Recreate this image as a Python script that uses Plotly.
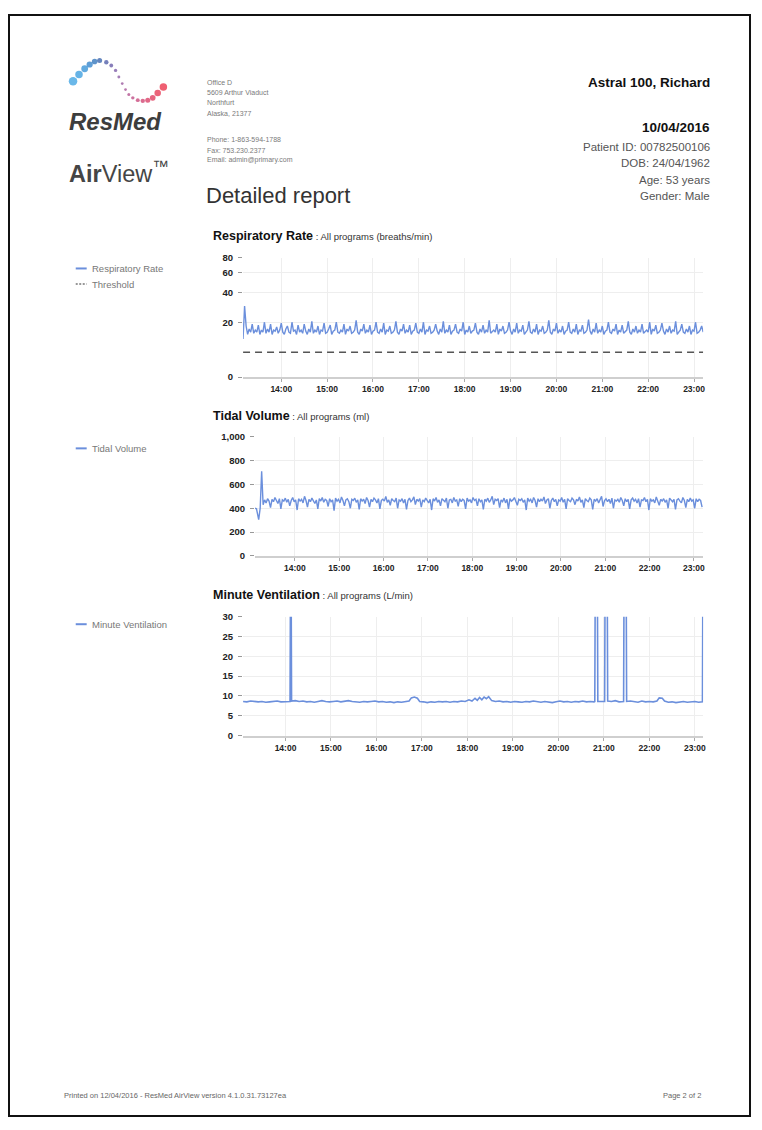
import numpy as np
import pandas as pd
import plotly.graph_objects as go

# Page is 762x1130; the browser body adds an 8px margin, so the figure is 746x1114
PAGE_W, PAGE_H, OFF = 762, 1130, 8
W, H = PAGE_W - 2 * OFF, PAGE_H - 2 * OFF
DAY = "2016-04-10 "


def px(x):
    return (x - OFF) / W


def py(y):
    return 1 - (y - OFF) / H


# ---------------- data ----------------
hour_ticks = ["14:00", "15:00", "16:00", "17:00", "18:00", "19:00", "20:00", "21:00", "22:00", "23:00"]

# Respiratory rate (breaths/min), every 2 minutes from 13:10
rr_start = "13:10"
rr_values = [
    12, 30, 18, 14, 16.5, 15, 19, 14.5, 16, 15,
    18.5, 14, 16, 15, 20, 14.5, 16.5, 15, 19, 14,
    16, 15.5, 17.5, 14.5, 16, 19.5, 15, 14, 16.5, 18,
    15, 14.5, 20, 15.5, 16, 14, 18.5, 15, 16, 14.5,
    19, 15.5, 14, 16.5, 15, 20.5, 14.5, 16, 15, 18,
    14, 16, 15.5, 19.5, 14.5, 15, 16.5, 18.5, 14, 15.5,
    16, 20, 15, 14.5, 16, 15, 19, 14, 16.5, 15.5,
    18, 14.5, 15, 16, 21, 15, 14, 16.5, 15.5, 19,
    14.5, 16, 15, 18.5, 14, 15.5, 16, 20, 15, 14.5,
    16.5, 15, 19.5, 14, 16, 15.5, 18, 14.5, 15, 16,
    20.5, 15, 14, 16.5, 15.5, 19, 14.5, 16, 15, 18.5,
    14, 15.5, 16, 19.5, 15, 14.5, 16.5, 15, 20, 14,
    16, 15.5, 18, 14.5, 15, 16, 19, 15.5, 14, 16.5,
    15, 20.5, 14.5, 16, 15, 18.5, 14, 15.5, 16, 19,
    15, 14.5, 16.5, 15.5, 20, 14, 16, 15, 18, 14.5,
    15.5, 16, 19.5, 15, 14, 16.5, 15, 18.5, 14.5, 16,
    15, 21, 14.5, 15.5, 16, 15, 19, 14, 16.5, 15.5,
    18, 14.5, 15, 16, 20, 15.5, 14, 16.5, 15, 19.5,
    14.5, 16, 15.5, 18.5, 14, 15, 16, 20.5, 15, 14.5,
    16.5, 15, 19, 14, 16, 15.5, 18, 14.5, 15, 16,
    21, 15, 14, 16.5, 15.5, 19.5, 14.5, 16, 15, 18,
    14, 15.5, 16, 20, 15, 14.5, 16.5, 15, 19, 14,
    16, 15.5, 18.5, 14.5, 15, 16, 21.5, 15.5, 14, 16.5,
    15, 19.5, 14.5, 16, 15, 18, 14, 15.5, 16, 20,
    15, 14.5, 16.5, 15.5, 19, 14, 16, 15, 18.5, 14.5,
    15.5, 16, 20.5, 15, 14, 16.5, 15, 18, 14.5, 16,
    15, 19, 14.5, 15.5, 16, 15, 20, 14, 16.5, 15.5,
    18.5, 14.5, 15, 16, 19.5, 15.5, 14, 16.5, 15, 18,
    14.5, 16, 15.5, 20.5, 14, 15, 16, 19, 15, 14.5,
    16.5, 15, 18, 14, 16, 15.5, 20, 14.5, 15, 16,
    18, 15,
]
rr_threshold = 7
rr_ticks = [0, 20, 40, 60, 80]
RR_OFFSET = 15  # offset of the compressed (log) respiratory-rate scale

# Tidal volume (ml)
tv_head_times = ["13:06", "13:08", "13:11", "13:13", "13:15", "13:17"]
tv_head_values = [400, 395, 305, 400, 710, 430]
tv_start = "13:19"  # then every 2 minutes
tv_values = [
    470, 445, 480, 460, 405, 475, 455, 490, 465, 440,
    480, 395, 470, 460, 485, 450, 475, 420, 465, 490,
    455, 470, 385, 480, 460, 475, 445, 500, 465, 410,
    475, 455, 485, 465, 440, 470, 395, 480, 460, 490,
    450, 475, 465, 415, 480, 455, 470, 380, 485, 460,
    475, 445, 495, 465, 420, 470, 480, 455, 400, 475,
    465, 485, 450, 470, 390, 480, 460, 475, 440, 490,
    465, 410, 475, 455, 485, 470, 445, 480, 395, 465,
    475, 460, 500, 450, 470, 425, 480, 465, 455, 485,
    400, 470, 460, 480, 445, 475, 390, 465, 485, 455,
    470, 495, 430, 475, 460, 480, 410, 470, 455, 485,
    465, 445, 475, 385, 480, 460, 490, 450, 470, 420,
    480, 465, 455, 485, 400, 470, 475, 445, 490, 460,
    470, 415, 480, 455, 475, 465, 395, 485, 460, 470,
    445, 490, 465, 475, 420, 480, 455, 470, 390, 475,
    460, 485, 450, 470, 500, 430, 475, 465, 480, 405,
    470, 455, 485, 445, 475, 395, 480, 460, 470, 490,
    455, 425, 475, 465, 480, 450, 470, 385, 485, 460,
    475, 445, 490, 465, 410, 480, 455, 475, 460, 495,
    440, 470, 480, 400, 465, 485, 455, 475, 420, 470,
    460, 490, 450, 475, 395, 480, 465, 455, 485, 470,
    430, 475, 460, 495, 450, 470, 405, 480, 465, 455,
    485, 470, 390, 475, 460, 480, 445, 470, 500, 415,
    465, 480, 455, 475, 440, 485, 400, 470, 460, 475,
    450, 490, 465, 420, 480, 455, 475, 395, 470, 485,
    460, 475, 445, 480, 410, 470, 465, 490, 455, 475,
    385, 480, 460, 470, 445, 495, 465, 425, 475, 460,
    480, 450, 470, 400, 485, 465, 455, 475, 390, 470,
    480, 460, 445, 490, 465, 405, 475, 455, 485, 460,
    470, 400, 480, 455, 475, 465, 410,
]
tv_ticks = [0, 200, 400, 600, 800, 1000]

# Minute ventilation (L/min)
mv_times = [
    "13:04", "13:09", "13:14", "13:19", "13:24", "13:29", "13:34", "13:39", "13:44", "13:49",
    "13:54", "13:59", "14:04", "14:06", "14:07", "14:08", "14:13", "14:18", "14:23", "14:28",
    "14:33", "14:38", "14:43", "14:48", "14:53", "14:58", "15:03", "15:08", "15:13", "15:18",
    "15:23", "15:28", "15:33", "15:38", "15:43", "15:48", "15:53", "15:58", "16:03", "16:08",
    "16:13", "16:18", "16:23", "16:28", "16:33", "16:38", "16:43", "16:46", "16:50", "16:54",
    "16:57", "17:02", "17:07", "17:12", "17:17", "17:22", "17:27", "17:32", "17:37", "17:42",
    "17:47", "17:52", "17:57", "18:02", "18:06", "18:10", "18:13", "18:16", "18:19", "18:22",
    "18:25", "18:28", "18:32", "18:37", "18:42", "18:47", "18:52", "18:57", "19:02", "19:07",
    "19:12", "19:17", "19:22", "19:27", "19:32", "19:37", "19:42", "19:47", "19:52", "19:57",
    "20:02", "20:07", "20:12", "20:17", "20:22", "20:27", "20:32", "20:37", "20:42", "20:47",
    "20:48", "20:49", "20:51", "20:52", "20:57", "21:01", "21:02", "21:04", "21:05", "21:10",
    "21:15", "21:20", "21:26", "21:27", "21:29", "21:30", "21:35", "21:40", "21:45", "21:50",
    "21:55", "22:00", "22:05", "22:10", "22:13", "22:17", "22:20", "22:25", "22:30", "22:35",
    "22:40", "22:45", "22:50", "22:55", "23:00", "23:05", "23:10", "23:11",
]
mv_values = [
    8.6, 8.5, 8.7, 8.6, 8.5, 8.6, 8.4, 8.5, 8.6, 8.7,
    8.5, 8.6, 8.7, 8.6, 60, 8.7, 8.8, 8.6, 8.7, 8.5,
    8.6, 8.4, 8.6, 8.8, 8.6, 8.5, 8.6, 8.7, 8.5, 8.6,
    8.8, 8.6, 8.5, 8.4, 8.6, 8.5, 8.6, 8.7, 8.5, 8.6,
    8.4, 8.5, 8.3, 8.5, 8.4, 8.6, 8.7, 9.5, 9.7, 9.4,
    8.6, 8.5, 8.3, 8.5, 8.4, 8.6, 8.5, 8.6, 8.4, 8.6,
    8.5, 8.7, 8.6, 9.0, 8.7, 9.4, 8.9, 9.6, 9.0, 9.7,
    9.3, 9.8, 8.8, 8.6, 8.7, 8.5, 8.6, 8.4, 8.6, 8.5,
    8.4, 8.6, 8.5, 8.7, 8.5, 8.4, 8.6, 8.4, 8.3, 8.5,
    8.7, 8.5, 8.6, 8.4, 8.6, 8.5, 8.7, 8.5, 8.6, 8.5,
    8.6, 60, 60, 8.6, 8.7, 8.6, 60, 60, 8.7, 8.6,
    8.8, 8.5, 8.6, 60, 60, 8.6, 8.7, 8.5, 8.4, 8.7,
    8.5, 8.6, 8.5, 8.7, 9.5, 9.4, 8.7, 8.4, 8.5, 8.3,
    8.5, 8.6, 8.4, 8.5, 8.6, 8.4, 8.5, 60,
]
mv_ticks = [0, 5, 10, 15, 20, 25, 30]

# ---------------- styles ----------------
BLUE = "#6b8fdc"
FONT = "Liberation Sans, Arial, sans-serif"
TICKFONT = dict(family=FONT, size=8.5, color="#222", weight="bold")
YTICKFONT = dict(family=FONT, size=9.5, color="#222", weight="bold")
GRID = "#eeeeee"

rr_times = pd.date_range(DAY + rr_start, periods=len(rr_values), freq="2min")
tv_times = list(pd.to_datetime([DAY + t for t in tv_head_times])) + list(
    pd.date_range(DAY + tv_start, periods=len(tv_values), freq="2min"))
tv_all = tv_head_values + tv_values
mv_dt = pd.to_datetime([DAY + t for t in mv_times])

fig = go.Figure()
fig.add_trace(go.Scatter(x=rr_times, y=np.array(rr_values) + RR_OFFSET, mode="lines",
                         line=dict(color=BLUE, width=1.4), xaxis="x", yaxis="y",
                         name="Respiratory Rate", hoverinfo="skip"))
fig.add_trace(go.Scatter(x=[DAY + "13:10", DAY + "23:12"],
                         y=[rr_threshold + RR_OFFSET, rr_threshold + RR_OFFSET], mode="lines",
                         line=dict(color="#555", width=1.5, dash="7px,5px"), xaxis="x", yaxis="y",
                         name="Threshold", hoverinfo="skip"))
fig.add_trace(go.Scatter(x=tv_times, y=tv_all, mode="lines",
                         line=dict(color=BLUE, width=1.4), xaxis="x2", yaxis="y2",
                         name="Tidal Volume", hoverinfo="skip"))
fig.add_trace(go.Scatter(x=mv_dt, y=mv_values, mode="lines",
                         line=dict(color=BLUE, width=1.6), xaxis="x3", yaxis="y3",
                         name="Minute Ventilation", hoverinfo="skip"))

# Logo dots (decoration, page pixel space)
logo_x = [73.3, 79.3, 85, 90, 95, 100, 106.7, 111.7, 116, 119.3, 122.7, 126, 129.3, 133.3,
          138.3, 143.3, 148.3, 153.3, 158.3, 164]
logo_y = [76, 69, 63.3, 59, 56, 55, 56.7, 60, 65, 71.7, 78.3, 84.3, 89.3, 92.7, 95, 95.7,
          95, 92.7, 87.7, 81.7]
logo_s = [8.5, 7.5, 6.8, 6.2, 5.6, 5, 4.4, 3.8, 3.3, 2.9, 2.7, 2.7, 3, 3.4, 3.9, 4.4, 5, 5.7,
          6.5, 7.5]
logo_c = ["#2b9ae0", "#2593dc", "#1f86d2", "#1b75c5", "#1a65b4", "#2452a2", "#3a4a9e", "#55479d",
          "#6c479c", "#7d4799", "#8d4492", "#9b3f8a", "#a93a80", "#b63576", "#c2306b", "#cc2c60",
          "#d52854", "#dc2449", "#e22240", "#e81d36"]
fig.add_trace(go.Scatter(x=logo_x, y=logo_y, mode="markers",
                         marker=dict(size=logo_s, color=logo_c, line=dict(width=0)),
                         xaxis="x4", yaxis="y4", hoverinfo="skip"))


def xaxis_cfg(left, right, rng, anchor):
    return dict(domain=[px(left), px(right)], type="date", range=[DAY + rng[0], DAY + rng[1]],
                tickvals=[DAY + h for h in hour_ticks], ticktext=hour_ticks,
                showgrid=True, gridcolor=GRID, gridwidth=1, zeroline=False,
                showline=True, linecolor="#cfcfcf", linewidth=2,
                ticks="outside", ticklen=3, tickcolor="#aaa", tickwidth=1,
                tickfont=TICKFONT, anchor=anchor, fixedrange=True)


def yaxis_cfg(top, bottom, anchor, **kw):
    d = dict(domain=[py(bottom), py(top)], showgrid=True, gridcolor=GRID, gridwidth=1,
             zeroline=False, showline=False, ticks="outside", ticklen=4, tickcolor="#999",
             tickwidth=1, tickfont=YTICKFONT, anchor=anchor, fixedrange=True,
             ticklabelstandoff=3)
    d.update(kw)
    return d


layout = dict(
    width=W, height=H, margin=dict(l=0, r=0, t=0, b=0),
    paper_bgcolor="white", plot_bgcolor="rgba(0,0,0,0)", showlegend=False,
    xaxis=xaxis_cfg(244, 706, ("13:10", "23:12"), "y"),
    yaxis=yaxis_cfg(254, 374.7, "x", type="log",
                    range=[np.log10(RR_OFFSET), np.log10(rr_ticks[-1] + RR_OFFSET)],
                    tickvals=[v + RR_OFFSET for v in rr_ticks], ticktext=[str(v) for v in rr_ticks]),
    xaxis2=xaxis_cfg(256, 706, ("13:06", "23:12:30"), "y2"),
    yaxis2=yaxis_cfg(435, 555.3, "x2", range=[0, tv_ticks[-1]], tickvals=tv_ticks,
                     ticktext=[f"{v:,}" for v in tv_ticks]),
    xaxis3=xaxis_cfg(244, 706, ("13:04", "23:11"), "y3"),
    yaxis3=yaxis_cfg(616.7, 736.7, "x3", range=[0, mv_ticks[-1]], tickvals=mv_ticks,
                     ticktext=[str(v) for v in mv_ticks]),
    xaxis4=dict(domain=[0, 1], range=[OFF, PAGE_W - OFF], visible=False, fixedrange=True,
                anchor="y4"),
    yaxis4=dict(domain=[0, 1], range=[PAGE_H - OFF, OFF], visible=False, fixedrange=True,
                anchor="x4"),
)
fig.update_layout(**layout)

ann = []


def text(x, y, s, size, color="#333", anchor="left", bold=False, family=FONT, yanchor="middle"):
    ann.append(dict(x=px(x), y=py(y), xref="paper", yref="paper", text=s, showarrow=False,
                    xanchor=anchor, yanchor=yanchor, align=anchor,
                    font=dict(family=family, size=size, color=color,
                              weight="bold" if bold else "normal")))


# Logo text
text(67, 117, "<i>ResMed</i>", 24, "#3d3d3d", bold=True)
text(67, 168, "<b>Air</b>View<sup>™</sup>", 23.5, "#454545")

# Address block
addr = [("Office D", 76.7), ("5609 Arthur Viaduct", 87.3), ("Northfurt", 97.7),
        ("Alaska, 21377", 108.3), ("Phone: 1-863-594-1788", 135), ("Fax: 753.230.2377", 145.7),
        ("Email: admin@primary.com", 155.7)]
for s, y in addr:
    text(206, y, s, 7, "#7a7a7a")
text(205, 191.7, "Detailed report", 22, "#333")

# Patient block
text(715, 76.7, "Astral 100, Richard", 13.5, "#111", anchor="right", bold=True)
text(715, 122.7, "10/04/2016", 13.5, "#111", anchor="right", bold=True)
for s, y in [("Patient ID: 00782500106", 142.3), ("DOB: 24/04/1962", 158.8),
             ("Age: 53 years", 175.2), ("Gender: Male", 191.5)]:
    text(715, y, s, 11.5, "#555", anchor="right")

# Chart titles
for title, sub, y in [("Respiratory Rate", "All programs (breaths/min)", 232.7),
                      ("Tidal Volume", "All programs (ml)", 414),
                      ("Minute Ventilation", "All programs (L/min)", 595)]:
    text(211.5, y, f"<b>{title}</b><span style='font-size:9.5px;color:#333'> : {sub}</span>",
         12.5, "#111")

# Left legends
shapes = []
for label, y, dash, col in [("Respiratory Rate", 265, None, BLUE), ("Threshold", 280.7, "dot", "#777"),
                            ("Tidal Volume", 446.7, None, BLUE),
                            ("Minute Ventilation", 624.3, None, BLUE)]:
    ln = dict(color=col, width=2 if dash is None else 1.5)
    if dash:
        ln["dash"] = "2px,1.5px"
    shapes.append(dict(type="line", xref="paper", yref="paper", x0=px(76), x1=px(87),
                       y0=py(y), y1=py(y), line=ln))
    text(90, y, label, 9.5, "#777")

# Footer
text(62, 1100, "Printed on 12/04/2016 - ResMed AirView version 4.1.0.31.73127ea", 7.5, "#666")
text(706, 1100, "Page 2 of 2", 7.5, "#666", anchor="right")

# Page border (at the figure edges)
shapes.append(dict(type="rect", xref="paper", yref="paper", x0=px(9), x1=px(753),
                   y0=py(1121), y1=py(9), line=dict(color="#111", width=2)))

fig.update_layout(annotations=ann, shapes=shapes)
fig.write_html("out.html", include_plotlyjs=True, config={"displayModeBar": False})
